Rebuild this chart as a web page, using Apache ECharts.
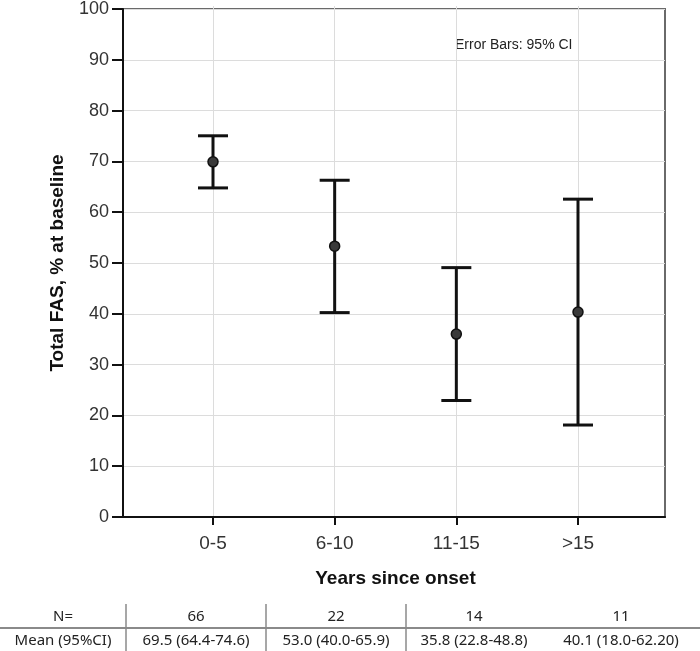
<!DOCTYPE html>
<html>
<head>
<meta charset="utf-8">
<script src="https://cdn.jsdelivr.net/npm/echarts@6/dist/echarts.min.js"></script>
<style>
  html, body { margin: 0; padding: 0; background: #fff; }
  #chart { width: 700px; height: 651px; }
</style>
</head>
<body>
<div id="chart"></div>
<script>
// data
var categories = ['0-5', '6-10', '11-15', '>15']
var means = [69.5, 53.0, 35.8, 40.1]
var lower = [64.4, 40.0, 22.8, 18.0]
var upper = [74.6, 65.9, 48.8, 62.2]
var counts = [66, 22, 14, 11]
var ciText = ['69.5 (64.4-74.6)', '53.0 (40.0-65.9)', '35.8 (22.8-48.8)', '40.1 (18.0-62.20)']

var chart = echarts.init(document.getElementById('chart'))

var barData = []
for (var i = 0; i < categories.length; i++) {
  barData.push([i, lower[i], upper[i]])
}
var meanData = []
for (var i = 0; i < categories.length; i++) {
  meanData.push([i, means[i]])
}

// table under the chart
var colX = [63, 196, 336, 474, 621]
var sepX = [126, 266, 406]
var tableGraphics = [
  { type: 'line', shape: { x1: 0, y1: 628, x2: 700, y2: 628 }, style: { stroke: '#8a8a8a', lineWidth: 2 } }
]
sepX.forEach(function (x) {
  tableGraphics.push({ type: 'line', shape: { x1: x, y1: 604, x2: x, y2: 651 }, style: { stroke: '#8a8a8a', lineWidth: 1.5 } })
})
var rowN = ['N='].concat(counts.map(String))
var rowM = ['Mean (95%CI)'].concat(ciText)
for (var c = 0; c < rowN.length; c++) {
  tableGraphics.push({ type: 'text', x: colX[c], y: 617, style: { text: rowN[c], fill: '#222', font: '15px "Noto Sans"', align: 'center', verticalAlign: 'middle' } })
  tableGraphics.push({ type: 'text', x: colX[c], y: 641, style: { text: rowM[c], fill: '#222', font: '15px "Noto Sans"', align: 'center', verticalAlign: 'middle' } })
}

var option = {
  animation: false,
  textStyle: { fontFamily: 'Liberation Sans, Arial, sans-serif' },
  grid: [
    // outer frame
    { left: 123, right: 35, top: 6, bottom: 134, show: true, borderColor: '#6a6a6a', borderWidth: 2, backgroundColor: 'transparent' },
    // category positions
    { left: 213, right: 122, top: 6, bottom: 134 }
  ],
  xAxis: [
    {
      gridIndex: 0,
      type: 'value',
      min: 0,
      max: 1,
      axisLine: { show: true, onZero: false, lineStyle: { color: '#111', width: 2 } },
      axisTick: { show: false },
      axisLabel: { show: false },
      splitLine: { show: false }
    },
    {
      gridIndex: 1,
      type: 'category',
      data: categories,
      boundaryGap: false,
      name: 'Years since onset',
      nameLocation: 'middle',
      nameGap: 52,
      nameTextStyle: { fontSize: 19, fontWeight: 'bold', color: '#111' },
      axisLine: { show: false },
      axisTick: { show: true, length: 8, lineStyle: { color: '#111', width: 2 } },
      axisLabel: { fontSize: 19, color: '#333', margin: 17 },
      splitLine: { show: true, lineStyle: { color: '#dcdcdc', width: 1 } }
    }
  ],
  yAxis: [
    {
      gridIndex: 0,
      type: 'value',
      min: 0,
      max: 100,
      interval: 10,
      name: 'Total FAS, % at baseline',
      nameLocation: 'middle',
      nameGap: 56,
      nameTextStyle: { fontSize: 19, fontWeight: 'bold', color: '#111' },
      axisLine: { show: true, lineStyle: { color: '#111', width: 2 } },
      axisTick: { show: true, length: 11, lineStyle: { color: '#111', width: 2 } },
      axisLabel: { fontSize: 18, color: '#333', margin: 14 },
      splitLine: { show: true, lineStyle: { color: '#dcdcdc', width: 1 } }
    },
    {
      gridIndex: 1,
      type: 'value',
      min: 0,
      max: 100,
      show: false
    }
  ],
  series: [
    {
      type: 'custom',
      xAxisIndex: 1,
      yAxisIndex: 1,
      data: barData,
      z: 3,
      renderItem: function (params, api) {
        var x = api.value(0)
        var lo = api.coord([x, api.value(1)])
        var hi = api.coord([x, api.value(2)])
        var cap = 15
        var st = { stroke: '#111', lineWidth: 3 }
        return {
          type: 'group',
          children: [
            { type: 'line', shape: { x1: lo[0], y1: lo[1], x2: hi[0], y2: hi[1] }, style: st },
            { type: 'line', shape: { x1: lo[0] - cap, y1: lo[1], x2: lo[0] + cap, y2: lo[1] }, style: st },
            { type: 'line', shape: { x1: hi[0] - cap, y1: hi[1], x2: hi[0] + cap, y2: hi[1] }, style: st }
          ]
        }
      }
    },
    {
      type: 'scatter',
      xAxisIndex: 1,
      yAxisIndex: 1,
      data: meanData,
      symbol: 'circle',
      symbolSize: 10,
      z: 4,
      itemStyle: { color: '#3a3a3a', borderColor: '#111', borderWidth: 1.5, opacity: 1 }
    }
  ],
  graphic: [
    { type: 'text', x: 455, y: 45, style: { text: 'Error Bars: 95% CI', fill: '#222', font: '14px "Liberation Sans", Arial', verticalAlign: 'middle' } }
  ].concat(tableGraphics)
}

chart.setOption(option)
</script>
</body>
</html>
